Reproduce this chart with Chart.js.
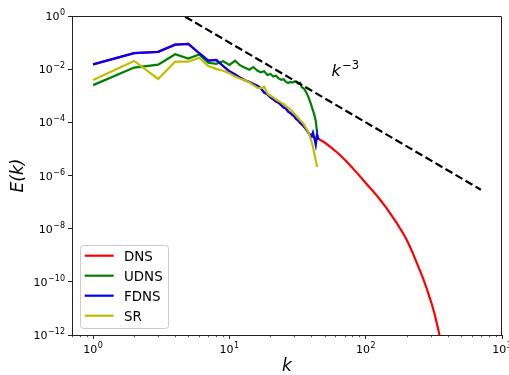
<!DOCTYPE html>
<html>
<head>
<meta charset="utf-8">
<script src="https://cdn.jsdelivr.net/npm/chart.js@4.4.0/dist/chart.umd.min.js"></script>
<style>
  body { margin: 0; background: #fff; }
  canvas { display: block; }
</style>
</head>
<body>
<canvas id="espectro" width="509" height="375"></canvas>
<script>
// numeros de onda e log10(E)
const k_filt = [1,2,3,4,5,6,7,8,9,10,11,12,13,14,15,16,17,18,19,20,21,22,23,24,25,26,27,28,29,30,31,32,33,34,35,36,37,38,39,40,41,42,43,44,45]
const fdns_exp = [-1.82,-1.40,-1.35,-1.08,-1.05,-1.40,-1.68,-1.65,-1.88,-2.08,-2.20,-2.32,-2.42,-2.48,-2.56,-2.62,-2.72,-2.88,-2.95,-3.06,-3.14,-3.22,-3.26,-3.36,-3.44,-3.48,-3.60,-3.65,-3.72,-3.78,-3.88,-3.93,-4.02,-4.08,-4.14,-4.22,-4.30,-4.40,-4.46,-4.52,-4.38,-4.60,-4.85,-4.45,-4.65]
const udns_exp = [-2.60,-1.94,-1.83,-1.44,-1.60,-1.45,-1.76,-1.80,-1.70,-1.84,-1.68,-1.86,-1.95,-2.02,-1.92,-2.05,-2.12,-2.08,-2.22,-2.18,-2.28,-2.25,-2.35,-2.40,-2.38,-2.48,-2.52,-2.48,-2.50,-2.46,-2.47,-2.55,-2.52,-2.68,-2.72,-2.80,-2.92,-3.05,-3.20,-3.38,-3.55,-3.72,-3.95,-4.38]
const sr_exp = [-2.41,-1.69,-2.37,-1.72,-1.72,-1.57,-1.88,-1.99,-2.06,-2.15,-2.28,-2.36,-2.42,-2.50,-2.60,-2.70,-2.72,-2.66,-2.92,-3.00,-3.06,-3.14,-3.20,-3.26,-3.32,-3.38,-3.46,-3.52,-3.60,-3.68,-3.76,-3.84,-3.92,-3.98,-4.06,-4.16,-4.26,-4.38,-4.55,-4.72,-4.92,-5.18,-5.42,-5.68]

// DNS: igual ao FDNS ate k=40, depois segue sozinho
const dns_k = k_filt.concat([50,55,60,65,70,77,87,100,110,120,128,140,150,160,170,180,189,200,210,222,240,264,280,303,320,330,340,350,360])
const dns_exp = fdns_exp.slice(0, 40).concat([-4.55,-4.57,-4.59,-4.61,-4.62,
  -4.76,-4.92,-5.08,-5.24,-5.40,-5.62,-5.92,-6.28,-6.52,-6.74,-6.92,-7.18,-7.40,-7.61,-7.81,-8.02,-8.19,-8.43,-8.65,-8.93,-9.35,-9.88,-10.25,-10.78,-11.20,-11.49,-11.77,-12.09,-12.40])

// reta de referencia k^-3
const ref_k = [4, 700]
const ref_E = [1.5625, 2.915e-7]

const x_ticks = [1, 10, 100, 1000]
const y_ticks = [1, 1e-2, 1e-4, 1e-6, 1e-8, 1e-10, 1e-12]

const pts = (ks, ex) => ks.map((k, i) => ({x: k, y: Math.pow(10, ex[i])}))

const fonte = '"DejaVu Sans", sans-serif'
const corEixo = '#222'

function serie(label, cor, dados, ordem) {
  return {
    label: label,
    data: dados,
    borderColor: cor,
    backgroundColor: cor,
    borderWidth: 2.2,
    pointRadius: 0,
    fill: false,
    tension: 0,
    order: ordem,
  }
}

const data_espectro = {
  datasets: [
    serie('DNS', '#ff0000', pts(dns_k, dns_exp), 4),
    serie('UDNS', '#008000', pts(k_filt.slice(0, udns_exp.length), udns_exp), 3),
    serie('FDNS', '#0000ff', pts(k_filt, fdns_exp), 2),
    serie('SR', '#bfbf00', pts(k_filt.slice(0, sr_exp.length), sr_exp), 1),
    {
      label: '',
      data: ref_k.map((k, i) => ({x: k, y: ref_E[i]})),
      borderColor: '#000',
      borderWidth: 2.2,
      borderDash: [8, 3.6],
      pointRadius: 0,
      order: 0,
    }
  ]
}

// desenha "10" com expoente
function potencia(ctx, exp, x, y, align) {
  const base = '10'
  const sup = exp < 0 ? '\u2212' + Math.abs(exp) : String(exp)
  ctx.font = '11px ' + fonte
  const wb = ctx.measureText(base).width
  ctx.font = '8px ' + fonte
  const ws = ctx.measureText(sup).width
  const w = wb + ws + 0.5
  let x0 = align === 'center' ? x - w / 2 : x - w
  ctx.textAlign = 'left'
  ctx.textBaseline = 'alphabetic'
  ctx.fillStyle = '#000'
  ctx.font = '11px ' + fonte
  ctx.fillText(base, x0, y)
  ctx.font = '8px ' + fonte
  ctx.fillText(sup, x0 + wb + 0.5, y - 5)
}

const plugin_extras = {
  id: 'extras',
  afterDraw(chart) {
    const ctx = chart.ctx
    const a = chart.chartArea
    const xs = chart.scales.x
    const ys = chart.scales.y
    ctx.save()

    // moldura em cima e a direita
    ctx.strokeStyle = corEixo
    ctx.lineWidth = 1
    ctx.beginPath()
    ctx.moveTo(a.left, a.top + 0.5)
    ctx.lineTo(a.right - 0.5, a.top + 0.5)
    ctx.lineTo(a.right - 0.5, a.bottom)
    ctx.stroke()

    // ticks menores no eixo x
    ctx.beginPath()
    for (let d = -1; d < 3; d++) {
      for (let m = 2; m <= 9; m++) {
        const v = m * Math.pow(10, d)
        if (v < xs.min || v > xs.max) continue
        const px = Math.round(xs.getPixelForValue(v)) + 0.5
        ctx.moveTo(px, a.bottom)
        ctx.lineTo(px, a.bottom + 2.2)
      }
    }
    ctx.lineWidth = 0.8
    ctx.stroke()

    // rotulos dos ticks
    x_ticks.forEach(v => potencia(ctx, Math.round(Math.log10(v)), xs.getPixelForValue(v), a.bottom + 18, 'center'))
    y_ticks.forEach(v => potencia(ctx, Math.round(Math.log10(v)), a.left - 7, ys.getPixelForValue(v) + 4, 'right'))

    // texto k^-3
    const tx = xs.getPixelForValue(56)
    const ty = ys.getPixelForValue(5.5e-3)
    ctx.font = 'italic 16px ' + fonte
    ctx.textAlign = 'left'
    ctx.fillText('k', tx, ty)
    const wk = ctx.measureText('k').width
    ctx.font = '11.5px ' + fonte
    ctx.fillText('\u22123', tx + wk + 1.5, ty - 7.5)

    // legenda
    const lx = 80.5, ly = 245.5, lw = 88, lh = 83
    ctx.beginPath()
    ctx.roundRect(lx, ly, lw, lh, 3)
    ctx.fillStyle = 'rgba(255,255,255,0.8)'
    ctx.fill()
    ctx.strokeStyle = '#cccccc'
    ctx.lineWidth = 1
    ctx.stroke()
    const itens = chart.data.datasets.filter(d => d.label)
    itens.forEach((d, i) => {
      const ry = 255.7 + i * 20
      ctx.beginPath()
      ctx.moveTo(84.7, ry)
      ctx.lineTo(113.7, ry)
      ctx.strokeStyle = d.borderColor
      ctx.lineWidth = 2.2
      ctx.stroke()
      ctx.fillStyle = '#000'
      ctx.font = '13.4px ' + fonte
      ctx.fillText(d.label, 124, ry + 5)
    })
    ctx.restore()
  }
}

const config_espectro = {
  type: 'line',
  data: data_espectro,
  options: {
    responsive: false,
    animation: false,
    devicePixelRatio: 1,
    layout: { padding: { top: 16, right: 7, bottom: 0, left: 0 } },
    plugins: {
      legend: { display: false },
      tooltip: { enabled: false },
    },
    scales: {
      x: {
        type: 'logarithmic',
        position: 'bottom',
        min: 0.715,
        max: 1000,
        border: { display: true, color: corEixo, width: 1 },
        grid: { drawOnChartArea: false, drawTicks: true, tickLength: 4, color: corEixo },
        ticks: { display: false },
        afterBuildTicks: s => { s.ticks = x_ticks.map(v => ({value: v})) },
        afterFit: s => { s.height = 40; s.paddingLeft = 0; s.paddingRight = 0 },
        title: {
          display: true,
          text: 'k',
          color: '#000',
          font: { family: 'DejaVu Sans', style: 'italic', size: 17, lineHeight: 1 },
          padding: { top: 0, bottom: 0 },
        },
      },
      y: {
        type: 'logarithmic',
        position: 'left',
        min: 1e-12,
        max: 1,
        border: { display: true, color: corEixo, width: 1 },
        grid: { drawOnChartArea: false, drawTicks: true, tickLength: 4, color: corEixo },
        ticks: { display: false },
        afterBuildTicks: s => { s.ticks = y_ticks.map(v => ({value: v})) },
        afterFit: s => { s.width = 72; s.paddingTop = 0; s.paddingBottom = 0 },
        title: {
          display: true,
          text: 'E(k)',
          color: '#000',
          font: { family: 'DejaVu Sans', style: 'italic', size: 17, lineHeight: 1 },
          padding: { top: 10.5, bottom: 0 },
        },
      },
    },
  },
  plugins: [plugin_extras],
}

const myChart_espectro = new Chart(
  document.getElementById('espectro'),
  config_espectro
)
</script>
</body>
</html>
